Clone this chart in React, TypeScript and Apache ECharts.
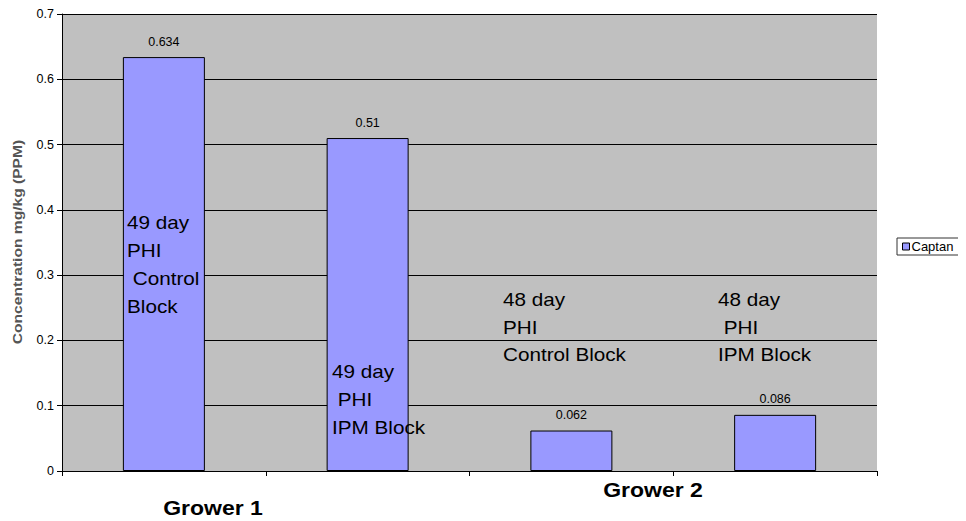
import React, { useEffect, useRef } from "react";
import * as echarts from "echarts";

const categories = ["G1 Control", "G1 IPM", "G2 Control", "G2 IPM"];
const captan = [0.634, 0.51, 0.062, 0.086];
const yTicks = { min: 0, max: 0.7, interval: 0.1 };
const groupLabels = ["Grower 1", "Grower 2"];
const yName = "Concentration mg/kg (PPM)";
const notes = [
  "49 day\nPHI\n Control\nBlock",
  "49 day\n PHI\nIPM Block",
  "48 day\nPHI\nControl Block",
  "48 day\n PHI\nIPM Block",
];

const FONT = "'Liberation Sans', Arial, sans-serif";

export default function App() {
  const ref = useRef<HTMLDivElement>(null);
  useEffect(() => {
    if (!ref.current) return;
    const chart = echarts.init(ref.current, null, { renderer: "svg" });
    const note = (text: string, x: number, y: number, lh: number) => ({
      type: "text",
      z: 100,
      x,
      y,
      scaleX: 1.15,
      style: { text, fontSize: 18, lineHeight: lh, fill: "#000", fontFamily: FONT, verticalAlign: "top" },
    });
    chart.setOption({
      animation: false,
      textStyle: { fontFamily: FONT },
      grid: {
        left: 54,
        right: 89,
        top: 6,
        bottom: 50,
        show: true,
        backgroundColor: "#C0C0C0",
        borderWidth: 0,
        containLabel: false,
        outerBoundsMode: "none",
      },
      legend: {
        data: ["Captan"],
        left: 889,
        top: 230,
        orient: "vertical",
        borderColor: "#333",
        borderWidth: 1,
        padding: [2, 20, 2, 5],
        itemWidth: 7,
        itemHeight: 7,
        itemGap: 2,
        icon: "rect",
        textStyle: { fontSize: 13, color: "#000", fontFamily: FONT, padding: [0, 0, 0, -3] },
        itemStyle: { borderColor: "#000", borderWidth: 1 },
      },
      xAxis: {
        type: "category",
        data: categories,
        axisLine: { lineStyle: { color: "#000", width: 1 } },
        axisTick: { show: true, interval: 0, length: 5, lineStyle: { color: "#000" } },
        axisLabel: { show: false },
        splitLine: { show: false },
      },
      yAxis: {
        type: "value",
        min: yTicks.min,
        max: yTicks.max,
        interval: yTicks.interval,
        axisLine: { show: true, lineStyle: { color: "#000", width: 1 } },
        axisTick: { show: true, length: 5, lineStyle: { color: "#000" } },
        axisLabel: { fontSize: 12.5, color: "#000", margin: 8, fontFamily: FONT },
        splitLine: { show: true, lineStyle: { color: "#000", width: 1 } },
      },
      series: [
        {
          name: "Captan",
          type: "bar",
          data: captan,
          barWidth: 82,
          itemStyle: { color: "#9999FF", borderColor: "#000", borderWidth: 1 },
          label: {
            show: true,
            position: "top",
            distance: 9,
            fontSize: 12.5,
            color: "#000",
            fontFamily: FONT,
          },
        },
      ],
      graphic: [
        note(notes[0], 119, 201, 28),
        note(notes[1], 324, 350, 28),
        note(notes[2], 495, 278, 27.5),
        note(notes[3], 710, 278, 27.5),
        {
          type: "text", z: 100, x: 205, y: 500, scaleX: 1.15,
          style: { text: groupLabels[0], fontSize: 20, fontWeight: "bold", fill: "#000", fontFamily: FONT, align: "center", verticalAlign: "middle" },
        },
        {
          type: "text", z: 100, x: 645, y: 482, scaleX: 1.15,
          style: { text: groupLabels[1], fontSize: 20, fontWeight: "bold", fill: "#000", fontFamily: FONT, align: "center", verticalAlign: "middle" },
        },
        {
          type: "text", z: 100, x: 10, y: 234, rotation: Math.PI / 2, scaleX: 1.3,
          style: { text: yName, fontSize: 12, fontWeight: "bold", fill: "#555", fontFamily: FONT, align: "center", verticalAlign: "middle" },
        },
      ],
    });
    return () => chart.dispose();
  }, []);
  return <div ref={ref} style={{ width: 958, height: 513 }} />;
}
